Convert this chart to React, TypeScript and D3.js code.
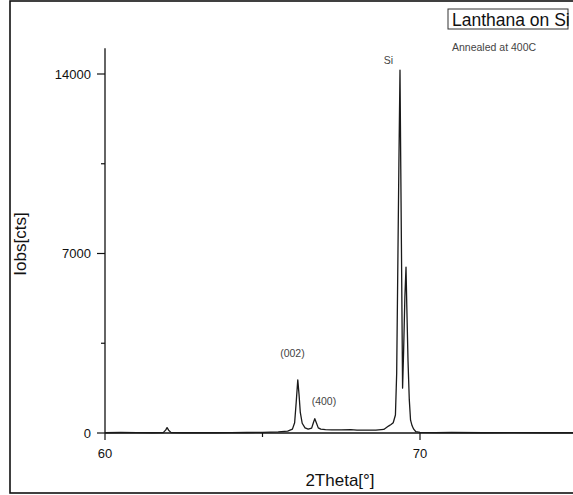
import React from "react";
import * as d3 from "d3";

// diffraction scan: 2theta in degrees, intensity in counts
const theta = [
  60.0, 60.5, 61.0, 61.5, 61.85, 61.93, 61.97, 62.02, 62.1, 62.5, 63.0, 63.5, 64.0, 64.5, 65.0, 65.5,
  65.8, 65.95, 66.02, 66.07, 66.12, 66.16, 66.2, 66.26, 66.35, 66.45, 66.56, 66.62, 66.66, 66.7, 66.77,
  66.85, 67.0, 67.2, 67.5, 67.8, 68.0, 68.3, 68.6, 68.85, 69.0, 69.08, 69.15, 69.22, 69.26, 69.3,
  69.33, 69.365, 69.39, 69.41, 69.43, 69.447, 69.48, 69.52, 69.556, 69.58, 69.62, 69.66, 69.7, 69.75,
  69.8, 69.87, 70.0, 70.5, 71.0, 72.0, 73.0, 74.0, 75.0,
];
const counts = [
  10, 20, 15, 10, 15, 120, 210, 110, 15, 10, 10, 10, 15, 20, 25, 40,
  70, 150, 400, 1200, 2070, 1500, 800, 380, 200, 150, 190, 420, 560, 430, 200,
  150, 130, 125, 120, 130, 115, 110, 110, 140, 270, 330, 400, 700, 2340, 7000,
  10500, 14150, 10300, 7350, 4300, 1750, 3200, 5300, 6470, 5000, 2800, 1300, 500, 280,
  150, 50, 25, 15, 20, 10, 15, 10, 10,
];

const xMajorTicks = [60, 70];
const xMinorTicks = [65];
const yMajorTicks = [0, 7000, 14000];
const yMinorTicks = [3500, 10500];

const peakLabels = [
  { text: "Si", x: 69.0, y: 14400 },
  { text: "(002)", x: 65.95, y: 2950 },
  { text: "(400)", x: 66.95, y: 1100 },
];

const W = 573;
const H = 495;
const font = "'Liberation Sans', Arial, sans-serif";

export default function App() {
  const x = d3.scaleLinear().domain([60, 75]).range([105, 577.5]);
  const y = d3.scaleLinear().domain([0, 14000]).range([433, 74]);

  const pts: [number, number][] = theta.map((t, i) => [t, counts[i]]);
  const line = d3
    .line<[number, number]>()
    .x((d) => x(d[0]))
    .y((d) => y(d[1]));

  return (
    <svg width={W} height={H} style={{ position: "absolute", left: 0, top: 0, background: "#fff" }}>
      {/* outer frame */}
      <rect x={10} y={1} width={W + 20} height={492} fill="none" stroke="#111" strokeWidth={1.6} />

      {/* axes */}
      <line x1={x(60)} x2={x(75)} y1={y(0)} y2={y(0)} stroke="#111" strokeWidth={1.3} />
      <line x1={x(60)} x2={x(60)} y1={y(0)} y2={y(15000)} stroke="#111" strokeWidth={1.3} />

      {xMajorTicks.map((t) => (
        <g key={"xm" + t}>
          <line x1={x(t)} x2={x(t)} y1={y(0)} y2={y(0) + 7} stroke="#111" strokeWidth={1.2} />
          <text x={x(t)} y={458} textAnchor="middle" fontFamily={font} fontSize={13} fill="#111">
            {t}
          </text>
        </g>
      ))}
      {xMinorTicks.map((t) => (
        <line key={"xn" + t} x1={x(t)} x2={x(t)} y1={y(0)} y2={y(0) + 4} stroke="#111" strokeWidth={1.2} />
      ))}
      {yMajorTicks.map((v) => (
        <g key={"ym" + v}>
          <line x1={x(60) - 8} x2={x(60)} y1={y(v)} y2={y(v)} stroke="#111" strokeWidth={1.2} />
          <text x={91} y={y(v) + 4.5} textAnchor="end" fontFamily={font} fontSize={13} fill="#111">
            {v}
          </text>
        </g>
      ))}
      {yMinorTicks.map((v) => (
        <line key={"yn" + v} x1={x(60) - 4} x2={x(60)} y1={y(v)} y2={y(v)} stroke="#111" strokeWidth={1.2} />
      ))}

      {/* scan */}
      <path d={line(pts) || ""} fill="none" stroke="#1a1a1a" strokeWidth={1.3} strokeLinejoin="round" />

      {/* annotations */}
      {peakLabels.map((p) => (
        <text key={p.text} x={x(p.x)} y={y(p.y)} textAnchor="middle" fontFamily={font} fontSize={10.5} fill="#444">
          {p.text}
        </text>
      ))}
      <rect x={448} y={9} width={120} height={20} fill="#fff" stroke="#333" strokeWidth={1} />
      <text x={452} y={25.5} fontFamily={font} fontSize={17.5} fill="#111">
        Lanthana on Si
      </text>
      <text x={452} y={51} fontFamily={font} fontSize={10.5} fill="#444">
        Annealed at 400C
      </text>

      {/* axis titles */}
      <text x={340} y={486} textAnchor="middle" fontFamily={font} fontSize={17} fill="#111">
        2Theta[°]
      </text>
      <text transform="translate(26,244) rotate(-90)" textAnchor="middle" fontFamily={font} fontSize={17} fill="#111">
        Iobs[cts]
      </text>
    </svg>
  );
}
